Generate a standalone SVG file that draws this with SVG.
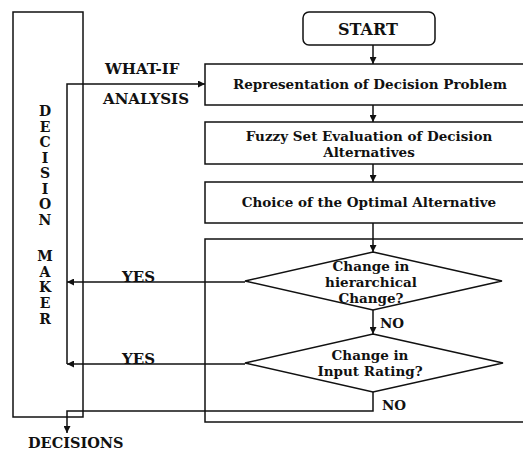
<svg xmlns="http://www.w3.org/2000/svg" width="523" height="450" viewBox="0 0 523 450">
<defs>
<marker id="ah" viewBox="0 0 10 10" refX="10" refY="5" markerWidth="7" markerHeight="7" markerUnits="userSpaceOnUse" orient="auto">
<path d="M0,0 L10,5 L0,10 z" fill="#111"/>
</marker>
<style>
.box{fill:#fff;stroke:#111;stroke-width:1.5}
.ln{fill:none;stroke:#111;stroke-width:1.5}
.t{font-family:"DejaVu Serif","Liberation Serif",serif;font-weight:bold;font-size:13.5px;fill:#111;text-anchor:middle}
.v{font-family:"DejaVu Serif","Liberation Serif",serif;font-weight:bold;font-size:14px;fill:#111;text-anchor:middle}
.l{font-family:"DejaVu Serif","Liberation Serif",serif;font-weight:bold;font-size:15px;fill:#111}
.n{font-family:"DejaVu Serif","Liberation Serif",serif;font-weight:bold;font-size:13.5px;fill:#111}
</style>
</defs>
<rect width="523" height="450" fill="#fff"/>
<g id="decision-maker">
<rect class="box" x="13" y="12" width="70" height="405"/>
<text class="v" x="45" y="116">D</text>
<text class="v" x="45" y="132">E</text>
<text class="v" x="45" y="147">C</text>
<text class="v" x="45" y="163">I</text>
<text class="v" x="45" y="178">S</text>
<text class="v" x="45" y="194">I</text>
<text class="v" x="45" y="209">O</text>
<text class="v" x="45" y="225">N</text>
<text class="v" x="45" y="261">M</text>
<text class="v" x="45" y="277">A</text>
<text class="v" x="45" y="292">K</text>
<text class="v" x="45" y="308">E</text>
<text class="v" x="45" y="324">R</text>
</g>
<g id="start">
<rect class="box" x="303" y="12" width="132" height="33" rx="6"/>
<text class="t" x="368" y="35" style="font-size:16px">START</text>
</g>
<g id="representation">
<rect class="box" x="205" y="64" width="330" height="41"/>
<text class="t" x="370" y="89">Representation of Decision Problem</text>
</g>
<g id="fuzzy">
<rect class="box" x="205" y="122" width="330" height="42"/>
<text class="t" x="369" y="141">Fuzzy Set Evaluation of Decision</text>
<text class="t" x="369" y="157">Alternatives</text>
</g>
<g id="choice">
<rect class="box" x="205" y="182" width="330" height="41"/>
<text class="t" x="369" y="207">Choice of the Optimal Alternative</text>
</g>
<g id="loop-frame">
<rect class="box" x="205" y="239" width="330" height="183"/>
</g>
<g id="hierarchical">
<polygon class="box" points="373,252 502,281 373,310 245,281"/>
<text class="t" x="371" y="271">Change in</text>
<text class="t" x="371" y="287">hierarchical</text>
<text class="t" x="371" y="303">Change?</text>
</g>
<g id="input-rating">
<polygon class="box" points="373,334 503,363 373,392 245,363"/>
<text class="t" x="370" y="360">Change in</text>
<text class="t" x="370" y="376">Input Rating?</text>
</g>
<g id="connectors">
<line class="ln" x1="373" y1="45" x2="373" y2="64" marker-end="url(#ah)"/>
<line class="ln" x1="373" y1="105" x2="373" y2="122" marker-end="url(#ah)"/>
<line class="ln" x1="373" y1="164" x2="373" y2="182" marker-end="url(#ah)"/>
<line class="ln" x1="373" y1="223" x2="373" y2="252" marker-end="url(#ah)"/>
<line class="ln" x1="373" y1="310" x2="373" y2="334" marker-end="url(#ah)"/>
<line class="ln" x1="245" y1="282" x2="67" y2="282" marker-end="url(#ah)"/>
<line class="ln" x1="245" y1="364" x2="67" y2="364" marker-end="url(#ah)"/>
<path class="ln" d="M67,364 V84 H205" marker-end="url(#ah)"/>
<path class="ln" d="M373,392 V411 H67 V433" marker-end="url(#ah)"/>
<text class="l" x="105" y="74">WHAT-IF</text>
<text class="l" x="103" y="104">ANALYSIS</text>
<text class="l" x="122" y="282">YES</text>
<text class="l" x="122" y="364">YES</text>
<text class="n" x="380" y="328">NO</text>
<text class="n" x="382" y="410">NO</text>
<text class="l" x="28" y="448" style="font-size:14.5px">DECISIONS</text>
</g>
</svg>
